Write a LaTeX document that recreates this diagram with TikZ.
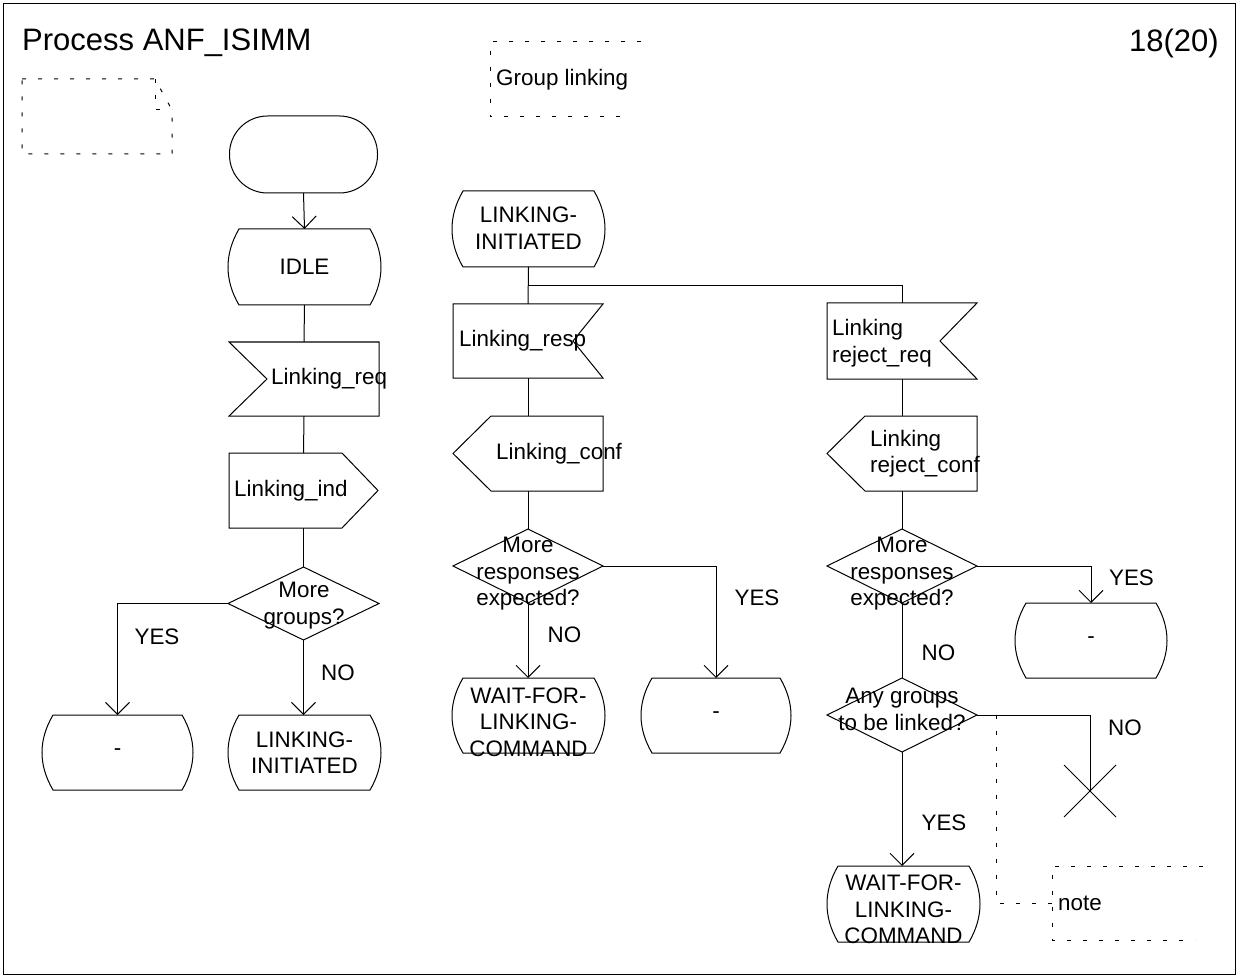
\documentclass[tikz,border=0pt]{standalone}
\usepackage{fontspec}
\setmainfont{Liberation Sans}
\usetikzlibrary{arrows.meta}
\newcommand\sdlfont{\fontsize{22.4}{26.5}\selectfont}
\newcommand\sdlbig{\fontsize{31}{36}\selectfont}
% outline macros drawn around named (empty) nodes
\newcommand\drawstate[1]{\draw[shp] ([xshift=11pt]#1.north west) -- ([xshift=-11pt]#1.north east)
  .. controls ([xshift=3.67pt,yshift=-25pt]#1.north east) and ([xshift=3.67pt,yshift=25pt]#1.south east) .. ([xshift=-11pt]#1.south east)
  -- ([xshift=11pt]#1.south west)
  .. controls ([xshift=-3.67pt,yshift=25pt]#1.south west) and ([xshift=-3.67pt,yshift=-25pt]#1.north west) .. cycle;}
\newcommand\drawstart[1]{\draw[shp, rounded corners=38pt] (#1.north west) rectangle (#1.south east);}
\newcommand\drawinL[2]{\draw[shp] (#1.north west) -- (#1.north east) -- (#1.south east) -- (#1.south west) -- ([xshift=#2]#1.west) -- cycle;}
\newcommand\drawinR[2]{\draw[shp] (#1.north east) -- (#1.north west) -- (#1.south west) -- (#1.south east) -- ([xshift=-#2]#1.east) -- cycle;}
\newcommand\drawoutR[2]{\draw[shp] (#1.north west) -- ([xshift=-#2]#1.north east) -- (#1.east) -- ([xshift=-#2]#1.south east) -- (#1.south west) -- cycle;}
\newcommand\drawoutL[2]{\draw[shp] (#1.north east) -- ([xshift=#2]#1.north west) -- (#1.west) -- ([xshift=#2]#1.south west) -- (#1.south east) -- cycle;}
\newcommand\drawdec[1]{\draw[shp] (#1.north) -- (#1.east) -- (#1.south) -- (#1.west) -- cycle;}
\tikzset{
  shp/.style={draw=black, line width=1pt, line join=miter},
  arr/.style={shp, -{Straight Barb[length=12pt,width=24pt]}},
  cmt/.style={draw=black, line width=1pt, dash pattern=on 4pt off 12pt},
  box/.style 2 args={rectangle, minimum width=#1pt, minimum height=#2pt, inner sep=0pt, outer sep=0pt, draw=none},
  txt/.style={inner sep=0pt, font=\sdlfont, align=center},
  ltxt/.style={inner sep=0pt, font=\sdlfont, align=left, anchor=west},
}
\begin{document}
\begin{tikzpicture}[x=1pt,y=1pt]
\useasboundingbox (0,0) rectangle (1237,-976);
% frame
\draw[shp] (3.5,-3.5) rectangle (1235.5,-974.5);
% header
\node[anchor=base west, inner sep=0pt, font=\sdlbig] (title) at (22,-51) {Process ANF\_ISIMM};
\node[anchor=base east, inner sep=0pt, font=\sdlbig] (page) at (1219,-52) {18(20)};
% page symbol (top left)
\draw[cmt] (22,-79) -- (155,-79) -- (172,-110) -- (172,-154) -- (22,-154) -- cycle;
\draw[cmt] (155,-79) -- (155,-110) -- (172,-110);
% group linking comment
\node[box={151}{75}] (grp) at (565.5,-79.5) {};
\draw[cmt] (grp.north east) -- (grp.north west) -- (grp.south west) -- ([xshift=-10pt]grp.south east);
\node[ltxt] (grp-t) at ([xshift=6pt]grp.west) {Group linking};

% ---------- left column ----------
\node[box={148}{77}] (start) at (303.5,-154.5) {};
\drawstart{start}
\node[box={153}{76}] (idle) at (304.5,-267) {};
\drawstate{idle}
\node[txt] (idle-t) at (idle) {IDLE};
\node[box={150}{74}] (req) at (304,-379) {};
\drawinL{req}{38pt}
\node[ltxt] (req-t) at ([xshift=42pt]req.west) {Linking\_req};
\node[box={149}{75}] (ind) at (303.5,-490.5) {};
\drawoutR{ind}{36pt}
\node[ltxt] (ind-t) at ([xshift=5pt]ind.west) {Linking\_ind};
\node[box={151}{73}] (dec1) at (303.5,-603.5) {};
\drawdec{dec1}
\node[txt] (dec1-t) at (304,-605.5) {More\\groups?};
\node[box={151}{75}] (dash1) at (117.5,-752.5) {};
\drawstate{dash1}
\node[txt] (dash1-t) at (dash1) {-};
\node[box={153}{75}] (li1) at (304.5,-752.5) {};
\drawstate{li1}
\node[txt] (li1-t) at (li1) {LINKING-\\INITIATED};

\draw[arr] (start.south) -- (idle.north);
\draw[shp] (idle.south) -- (req.north);
\draw[shp] (req.south) -- (ind.north);
\draw[shp] (ind.south) -- (dec1.north);
\draw[arr] (dec1.west) -| (dash1.north);
\draw[arr] (dec1.south) -- (dec1.south |- li1.north);
\node[txt] (yes1) at (157,-637) {YES};
\node[txt] (no1) at (338,-673) {NO};

% ---------- middle column ----------
\node[box={153}{76}] (li2) at (528.5,-229) {};
\drawstate{li2}
\node[txt] (li2-t) at (528.5,-228) {LINKING-\\INITIATED};
\coordinate (jn) at (528.5,-286);
\node[box={150}{74}] (resp) at (528,-341) {};
\drawinR{resp}{30pt}
\node[ltxt] (resp-t) at ([xshift=6pt]resp.west) {Linking\_resp};
\node[box={150}{75}] (conf) at (528,-453.5) {};
\drawoutL{conf}{38pt}
\node[ltxt] (conf-t) at ([xshift=43pt]conf.west) {Linking\_conf};
\node[box={150}{74}] (dec2) at (528,-566) {};
\drawdec{dec2}
\node[txt] (dec2-t) at (528,-574) {More\\responses\\expected?};
\node[box={153}{75}] (wait1) at (528.5,-715.5) {};
\drawstate{wait1}
\node[txt] (wait1-t) at (528.5,-722) {WAIT-FOR-\\LINKING-\\COMMAND};
\node[box={150}{75}] (dash2) at (716,-715.5) {};
\drawstate{dash2}
\node[txt] (dash2-t) at (dash2) {-};

\draw[shp] (li2.south) -- (resp.north);
\draw[shp] (resp.south) -- (conf.north);
\draw[shp] (conf.south) -- (dec2.north);
\draw[arr] (dec2.south) -- (dec2.south |- wait1.north);
\draw[arr] (dec2.east) -| (dash2.north);
\node[txt] (no2) at (564.5,-635) {NO};
\node[txt] (yes2) at (757,-598) {YES};

% ---------- right column ----------
\node[box={150}{76}] (rreq) at (902,-341) {};
\drawinR{rreq}{37pt}
\node[ltxt] (rreq-t) at ([xshift=5pt,yshift=-2pt]rreq.west) {Linking\\reject\_req};
\node[box={150}{75}] (rconf) at (902,-453.5) {};
\drawoutL{rconf}{38pt}
\node[ltxt] (rconf-t) at ([xshift=43pt]rconf.west) {Linking\\reject\_conf};
\node[box={150}{74}] (dec3) at (902,-566) {};
\drawdec{dec3}
\node[txt] (dec3-t) at (902,-574) {More\\responses\\expected?};
\node[box={152}{75}] (dash3) at (1091,-640.5) {};
\drawstate{dash3}
\node[txt] (dash3-t) at (dash3) {-};
\node[box={150}{74}] (dec4) at (902,-715) {};
\drawdec{dec4}
\node[txt] (dec4-t) at (902,-709.5) {Any groups\\to be linked?};
\node[box={52}{52}] (stop) at (1090,-791) {};
\draw[shp] (stop.north west) -- (stop.south east) (stop.south west) -- (stop.north east);
\node[box={153}{76}] (wait2) at (903.5,-904) {};
\drawstate{wait2}
\node[txt] (wait2-t) at (903.5,-909.5) {WAIT-FOR-\\LINKING-\\COMMAND};

\draw[shp] (jn) -| (rreq.north);
\draw[shp] (rreq.south) -- (rconf.north);
\draw[shp] (rconf.south) -- (dec3.north);
\draw[arr] (dec3.east) -| (dash3.north);
\draw[shp] (dec3.south) -- (dec4.north);
\draw[shp] (dec4.east) -| (stop.center);
\draw[arr] (dec4.south) -- (dec4.south |- wait2.north);
\node[txt] (yes3) at (1131.5,-578) {YES};
\node[txt] (no3) at (938.5,-653) {NO};
\node[txt] (no4) at (1125,-728) {NO};
\node[txt] (yes4) at (944,-823) {YES};

% note comment
\node[box={151}{74}] (note) at (1127.5,-903) {};
\draw[cmt] (note.north east) -- (note.north west) -- (note.south west) -- ([xshift=-8pt]note.south east);
\node[ltxt] (note-t) at ([xshift=6pt]note.west) {note};
\coordinate (cm) at (996,-715);
\draw[cmt] (cm) |- (note.west);
\end{tikzpicture}
\end{document}
